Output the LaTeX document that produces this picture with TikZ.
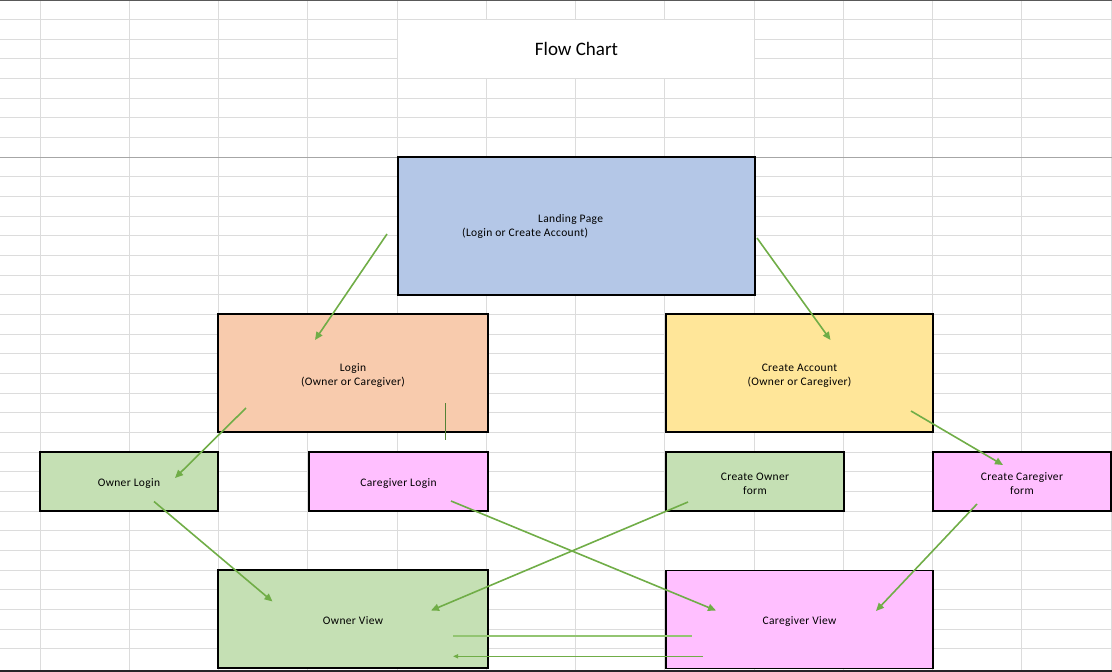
\documentclass[tikz,border=0pt]{standalone}
\usepackage{fontspec}
\setmainfont{Carlito}
\usepackage{xcolor}
\usepackage{tikz}
\usetikzlibrary{arrows.meta}

\definecolor{gridgray}{HTML}{DCDCDC}
\definecolor{landblue}{HTML}{B4C7E7}
\definecolor{loginpeach}{HTML}{F8CBAD}
\definecolor{createyellow}{HTML}{FFE699}
\definecolor{ownergreen}{HTML}{C5E0B4}
\definecolor{carepink}{HTML}{FFBFFF}
\definecolor{arrowgreen}{HTML}{70AD47}
\definecolor{lightgreen}{HTML}{93C572}
\definecolor{darkgreen}{HTML}{548235}

\tikzset{
    box/.style={draw=black, line width=1.5pt, inner sep=0pt, align=center, text height=11pt,
        font=\fontsize{11.5}{14}\selectfont\addfontfeature{LetterSpace=3}},
    twoline/.style={text height=27pt},
    flow/.style={arrowgreen, line width=1.6pt, -{Triangle[length=8pt,width=7pt]}},
}

\begin{document}
\begin{tikzpicture}[x=1pt,y=-1pt]
        \useasboundingbox (0,0) rectangle (1112,672);
        \begin{scope}[gridgray,line width=1pt]
            % Sheet grid:
            % columns are 89.25 wide, rows 19.66 high
            \foreach \c in {0,1,...,12}{%
                \draw ({40+89.25*\c},0) -- ({40+89.25*\c},672);
            }
            \foreach \r in {1,2,...,33}{%
                \draw (0,{19.66*\r}) -- (1112,{19.66*\r});
            }
        \end{scope}
        % Borders of the sheet
        \draw [gray!70!black,line width=1.2pt] (0,0.6) -- (1112,0.6);
        \draw [gray!70,line width=1pt] (0,157.3) -- (1112,157.3);
        \draw [black!85,line width=3pt] (0,671) -- (1112,671);

        % Title cell (white, covers the grid)
        \fill [white] (398,20.3) rectangle (754.3,78);
        \node [font=\fontsize{19}{22}\selectfont,anchor=base] (title) at (576.5,55) {Flow Chart};

        % Boxes
        \node [box,fill=landblue,minimum width=357pt,minimum height=138pt] (landing) at (576.5,226) {};
        \node [align=left,anchor=west,inner sep=0pt,
            font=\fontsize{11.5}{14}\selectfont\addfontfeature{LetterSpace=3}] (landtxt)
            at ([shift={(-114.5,0.5)}]landing.center) {\hspace*{76pt}Landing Page\\(Login or Create Account)};
        \node [box,twoline,fill=loginpeach,minimum width=270pt,minimum height=118pt] (login) at (353,373) {Login\\(Owner or Caregiver)};
        \node [box,twoline,fill=createyellow,minimum width=267pt,minimum height=118pt] (create) at (799.5,373) {Create Account\\(Owner or Caregiver)};
        \node [box,fill=ownergreen,minimum width=178pt,minimum height=59pt] (ownlog) at (129,481.5) {Owner Login};
        \node [box,fill=carepink,minimum width=179pt,minimum height=59pt] (carelog) at (398.5,481.5) {Caregiver Login};
        \node [box,twoline,fill=ownergreen,minimum width=178pt,minimum height=59pt] (ownform) at (755,481.5) {Create Owner\\form};
        \node [box,twoline,fill=carepink,minimum width=178pt,minimum height=59pt] (careform) at (1022,481.5) {Create Caregiver\\form};
        \node [box,fill=ownergreen,minimum width=270pt,minimum height=98pt] (ownview) at (353,619) {Owner View};
        \node [box,fill=carepink,minimum width=267pt,minimum height=98pt] (careview) at (799.5,619.5) {Caregiver View};

        % Arrows
        \draw [flow] ([shift={(-189.5,8)}]landing.center) -- ([shift={(-38,-33)}]login.center);
        \draw [flow] ([shift={(180.5,12)}]landing.center) -- ([shift={(31,-33)}]create.center);
        \draw [flow] ([shift={(-107,35)}]login.center) -- ([shift={(46,-3.5)}]ownlog.center);
        \draw [darkgreen,line width=0.8pt] ([shift={(92,30)}]login.center) -- ([shift={(92,67)}]login.center);
        \draw [flow] ([shift={(111.5,38)}]create.center) -- ([shift={(-19,-16.5)}]careform.center);
        \draw [flow] ([shift={(25,20)}]ownlog.center) -- ([shift={(-80.5,-17.5)}]ownview.center);
        \draw [flow] ([shift={(52.5,19.5)}]carelog.center) -- ([shift={(-83.5,-9)}]careview.center);
        \draw [flow] ([shift={(-67,20.5)}]ownform.center) -- ([shift={(78,-8.5)}]ownview.center);
        \draw [flow] ([shift={(-45,22.5)}]careform.center) -- ([shift={(76.5,-8.5)}]careview.center);
        % Lines between the two views
        \draw [lightgreen,line width=2pt] ([shift={(100,16.5)}]ownview.center) -- ([shift={(-107.5,16)}]careview.center);
        \draw [arrowgreen,line width=1.2pt,-{Triangle[length=5pt,width=4pt]}]
            ([shift={(-96.5,36.8)}]careview.center) -- ([shift={(100,37.3)}]ownview.center);
\end{tikzpicture}
\end{document}
